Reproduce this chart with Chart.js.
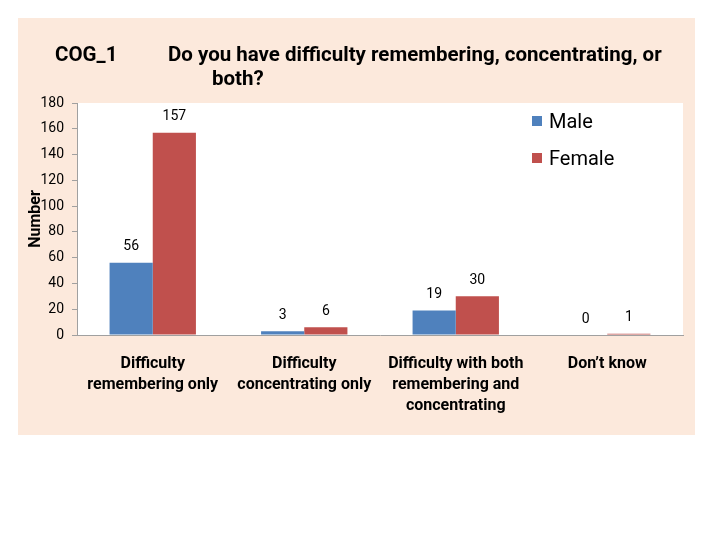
<!DOCTYPE html>
<html><head><meta charset="utf-8">
<script src="https://cdn.jsdelivr.net/npm/chart.js@4"></script>
<style>
html,body{margin:0;padding:0;background:#fff;width:720px;height:540px;overflow:hidden;}
#panel{position:absolute;left:18px;top:18px;width:677px;height:417px;background:#fce9dc;}
#wrap{position:absolute;left:0;top:0;width:720px;height:540px;}
.t{position:absolute;font-family:'Roboto',sans-serif;font-weight:bold;font-size:20.5px;color:#000;white-space:nowrap;line-height:1;}
.lg{position:absolute;font-family:'Roboto',sans-serif;font-size:20px;color:#000;white-space:nowrap;line-height:1;}
.sw{position:absolute;width:10px;height:10px;}
</style></head>
<body>
<div id="panel"></div>
<div id="wrap"><canvas id="c" width="720" height="540"></canvas></div>
<div class="t" style="left:55px;top:44px;">COG_1</div>
<div class="t" style="left:168px;top:44px;">Do you have difficulty remembering, concentrating, or</div>
<div class="t" style="left:212px;top:68px;">both?</div>
<div class="sw" style="left:532px;top:116px;background:#4f81bd;"></div>
<div class="lg" style="left:549px;top:111px;">Male</div>
<div class="sw" style="left:532px;top:153px;background:#c0504d;"></div>
<div class="lg" style="left:549px;top:148px;">Female</div>
<script>
const categories = [
  ["Difficulty","remembering only"],
  ["Difficulty","concentrating only"],
  ["Difficulty with both","remembering and","concentrating"],
  ["Don\u2019t know"]
];
const maleValues = [56, 3, 19, 0];
const femaleValues = [157, 6, 30, 1];
const seriesNames = ["Male", "Female"];
const yTicks = {min: 0, max: 180, step: 20};

const FONT = "'Roboto',sans-serif";

const plotBg = {
  id: 'plotBg',
  beforeDraw(chart) {
    const {ctx, chartArea: a} = chart;
    ctx.save();
    ctx.fillStyle = '#ffffff';
    ctx.fillRect(a.left, a.top, a.right - a.left, a.bottom - a.top);
    ctx.restore();
  }
};
const valueLabels = {
  id: 'valueLabels',
  afterDatasetsDraw(chart) {
    const ctx = chart.ctx;
    ctx.save();
    ctx.font = "14px " + FONT;
    ctx.fillStyle = '#000';
    ctx.textAlign = 'center';
    ctx.textBaseline = 'middle';
    chart.data.datasets.forEach((ds, i) => {
      chart.getDatasetMeta(i).data.forEach((bar, j) => {
        ctx.fillText(String(ds.data[j]), bar.x, bar.y - 16);
      });
    });
    ctx.restore();
  }
};

new Chart(document.getElementById('c'), {
  type: 'bar',
  data: {
    labels: categories,
    datasets: [
      {label: seriesNames[0], data: maleValues, backgroundColor: '#4f81bd', borderWidth: 0},
      {label: seriesNames[1], data: femaleValues, backgroundColor: '#c0504d', borderWidth: 0}
    ]
  },
  options: {
    responsive: false,
    animation: false,
    devicePixelRatio: 1,
    layout: {padding: {left: 26, right: 37, top: 103, bottom: 100}},
    plugins: {legend: {display: false}, tooltip: {enabled: false}},
    datasets: {bar: {categoryPercentage: 0.57, barPercentage: 1.0}},
    scales: {
      x: {
        afterFit: s => { s.height = 105; },
        grid: {display: true, drawOnChartArea: false, drawTicks: false, color: '#a0a0a0'},
        border: {color: '#a0a0a0', width: 1},
        ticks: {color: '#000', font: {family: FONT, size: 16, weight: 'bold', lineHeight: 1.3}, padding: 19, maxRotation: 0, autoSkip: false}
      },
      y: {
        min: yTicks.min, max: yTicks.max,
        afterFit: s => { s.width = 51; },
        grid: {display: true, drawOnChartArea: false, drawTicks: true, tickLength: 5, color: '#a0a0a0'},
        border: {color: '#a0a0a0', width: 1},
        ticks: {stepSize: yTicks.step, color: '#000', font: {family: FONT, size: 14}, padding: 8},
        title: {display: true, text: 'Number', color: '#000', font: {family: FONT, size: 16, weight: 'bold'}, padding: {top: 0, bottom: 0}}
      }
    }
  },
  plugins: [plotBg, valueLabels]
});
</script>
</body></html>
